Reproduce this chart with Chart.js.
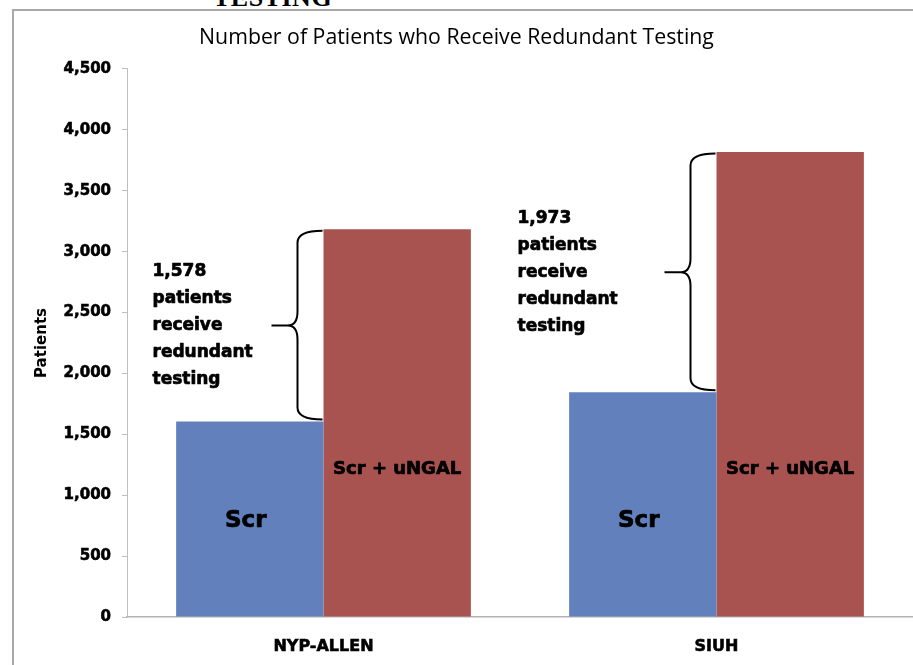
<!DOCTYPE html>
<html>
<head>
<meta charset="utf-8">
<script src="https://cdn.jsdelivr.net/npm/chart.js@4/dist/chart.umd.min.js"></script>
<style>
  html, body { margin: 0; padding: 0; background: #fff; width: 913px; height: 665px; overflow: hidden; }
  #frame { position: absolute; left: 12px; top: 9px; width: 1000px; height: 800px; border: 2px solid #a8a8a8; box-sizing: border-box; }
  #head { position: absolute; left: 213px; top: -15px; font: bold 26px "Liberation Serif", serif; line-height: 26px; color: #000; letter-spacing: 0.5px; white-space: nowrap; }
  #wrap { position: absolute; left: 0; top: 0; width: 913px; height: 665px; }
</style>
</head>
<body>
<div id="head">TESTING</div>
<div id="frame"></div>
<div id="wrap"><canvas id="c" width="913" height="665"></canvas></div>
<script>
// ---- data ----
const categories = ['NYP-ALLEN', 'SIUH'];
const seriesNames = ['Scr', 'Scr + uNGAL'];
const scrValues = [1605, 1845];
const ungalValues = [3183, 3818];
const redundantCounts = [1578, 1973];
const yTickValues = [0, 500, 1000, 1500, 2000, 2500, 3000, 3500, 4000, 4500];
const chartTitle = 'Number of Patients who Receive Redundant Testing';
const yAxisTitle = 'Patients';

const fmt = v => v.toLocaleString('en-US');
const annotationLines = redundantCounts.map(n => [fmt(n), 'patients', 'receive', 'redundant', 'testing']);

const BLUE = '#6281BC';
const RED = '#A95350';
const BOLD = '"DejaVu Sans", sans-serif';

function heavyText(ctx, txt, x, y) {
  ctx.lineWidth = 0.7;
  ctx.strokeStyle = '#000';
  ctx.lineJoin = 'round';
  ctx.strokeText(txt, x, y);
  ctx.fillText(txt, x, y);
}

const overlayPlugin = {
  id: 'overlay',
  afterDatasetsDraw(chart) {
    const ctx = chart.ctx;
    const y = chart.scales.y;
    const metaScr = chart.getDatasetMeta(0);
    const metaUn = chart.getDatasetMeta(1);
    ctx.save();
    ctx.fillStyle = '#000';
    ctx.textAlign = 'center';
    ctx.textBaseline = 'middle';
    metaScr.data.forEach(bar => {
      ctx.font = 'bold 23px ' + BOLD;
      heavyText(ctx, seriesNames[0], bar.x - 4, y.getPixelForValue(790));
    });
    metaUn.data.forEach(bar => {
      ctx.font = 'bold 18px ' + BOLD;
      heavyText(ctx, seriesNames[1], bar.x, y.getPixelForValue(1215));
    });
    const textOffsets = [-171, -199];
    categories.forEach((c, i) => {
      const un = metaUn.data[i];
      const x0 = un.x - un.width / 2 - 1;
      const yTop = y.getPixelForValue(ungalValues[i]) + 1.5;
      const yBot = y.getPixelForValue(scrValues[i]) - 2;
      const ym = y.getPixelForValue((ungalValues[i] + scrValues[i]) / 2);
      const xv = x0 - 25;
      const xt = x0 - 51;
      ctx.strokeStyle = '#000';
      ctx.lineWidth = 2;
      ctx.beginPath();
      ctx.moveTo(x0, yTop);
      ctx.quadraticCurveTo(xv, yTop, xv, yTop + 12);
      ctx.lineTo(xv, ym - 14);
      ctx.quadraticCurveTo(xv, ym, xv - 10, ym);
      ctx.lineTo(xt, ym);
      ctx.moveTo(xv - 10, ym);
      ctx.quadraticCurveTo(xv, ym, xv, ym + 14);
      ctx.lineTo(xv, yBot - 12);
      ctx.quadraticCurveTo(xv, yBot, x0, yBot);
      ctx.stroke();

      const lines = annotationLines[i];
      const lh = 27;
      const tx = chart.scales.x.getPixelForValue(i) + textOffsets[i];
      ctx.font = 'bold 17px ' + BOLD;
      ctx.textAlign = 'left';
      ctx.textBaseline = 'middle';
      lines.forEach((ln, k) => {
        heavyText(ctx, ln, tx, ym + (k - (lines.length - 1) / 2) * lh);
      });
    });
    ctx.restore();
  }
};

new Chart(document.getElementById('c'), {
  type: 'bar',
  data: {
    labels: categories,
    datasets: [
      { label: seriesNames[0], data: scrValues, backgroundColor: BLUE, borderWidth: 0 },
      { label: seriesNames[1], data: ungalValues, backgroundColor: RED, borderWidth: 0 }
    ]
  },
  options: {
    responsive: false,
    animation: false,
    devicePixelRatio: 1,
    layout: { padding: { top: 0, left: 0, right: 0, bottom: 0 } },
    datasets: { bar: { categoryPercentage: 0.75, barPercentage: 1.0 } },
    plugins: {
      legend: { display: false },
      tooltip: { enabled: false },
      title: {
        display: true,
        text: chartTitle,
        color: '#000',
        font: { family: '"Open Sans", sans-serif', size: 21.3, weight: 'normal', lineHeight: 1.2 },
        padding: { top: 25.2, bottom: 18.2 }
      }
    },
    scales: {
      x: {
        grid: { display: false, drawTicks: false },
        border: { display: true, color: '#b3b3b3', width: 1.5 },
        ticks: { color: '#000', padding: 20, textStrokeColor: '#000', textStrokeWidth: 0.6, font: { family: BOLD, size: 16, weight: 'bold' } },
        afterFit(scale) { scale.height = 48; }
      },
      y: {
        min: 0,
        max: 4500,
        afterBuildTicks(scale) { scale.ticks = yTickValues.map(v => ({ value: v })); },
        grid: { drawOnChartArea: false, drawTicks: true, tickLength: 5, color: '#bfbfbf' },
        border: { display: true, color: '#bfbfbf', width: 1 },
        ticks: { color: '#000', padding: 11, textStrokeColor: '#000', textStrokeWidth: 0.6, font: { family: BOLD, size: 15, weight: 'bold' }, callback: v => fmt(v) },
        title: { display: true, text: yAxisTitle, color: '#000', font: { family: BOLD, size: 15, weight: 'bold', lineHeight: 1.2 }, padding: { top: 33, bottom: 0 } },
        afterFit(scale) { scale.width = 127; }
      }
    }
  },
  plugins: [overlayPlugin]
});
</script>
</body>
</html>
